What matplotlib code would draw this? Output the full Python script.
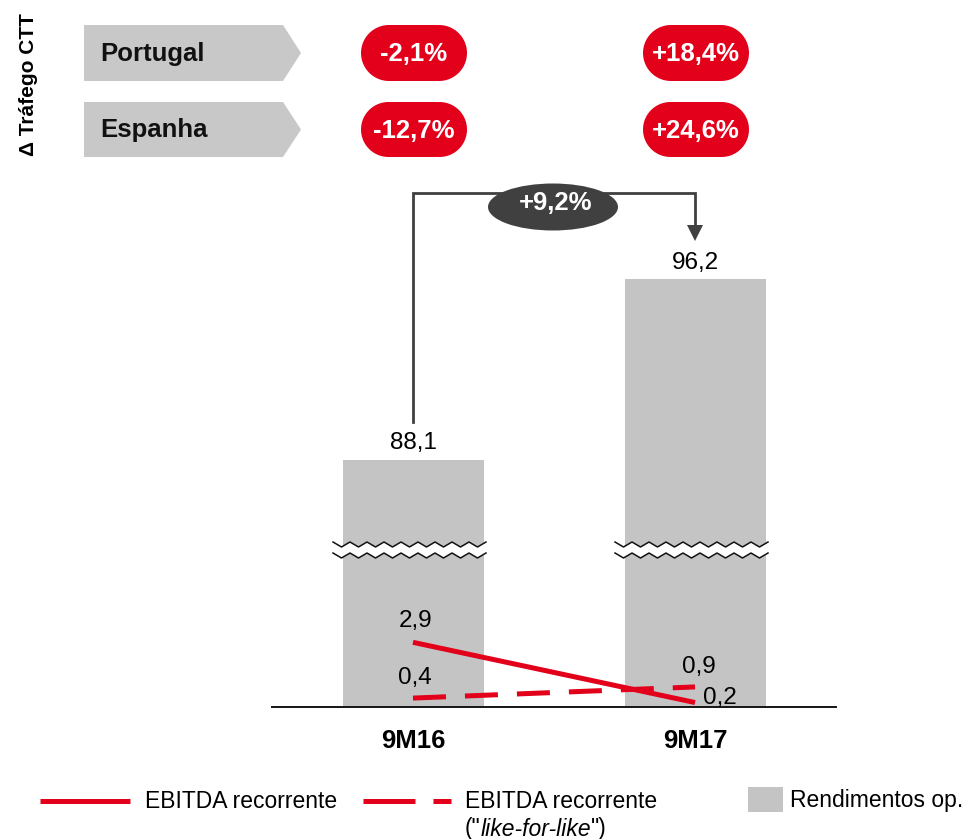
import numpy as np
import matplotlib
matplotlib.use("Agg")
import matplotlib.pyplot as plt
from matplotlib.patches import Polygon, Ellipse, Rectangle
from matplotlib.lines import Line2D

plt.rcParams['font.family'] = ['Liberation Sans', 'DejaVu Sans']

# ---------------- data ----------------
categories = ['9M16', '9M17']
rendimentos = [88.1, 96.2]          # Rendimentos op.
ebitda = [2.9, 0.2]                 # EBITDA recorrente
ebitda_lfl = [0.4, 0.9]             # EBITDA recorrente ("like-for-like")
growth_pct = 9.2
traffic_regions = ['Portugal', 'Espanha']
traffic_9m16 = [-2.1, -12.7]
traffic_9m17 = [18.4, 24.6]

RED = '#e2001a'
BAR_GREY = '#c4c4c4'
CHEV_GREY = '#c8c8c8'
DARK = '#404040'

W, H = 974, 839
fig = plt.figure(figsize=(W / 100, H / 100), dpi=100)


def fmt(v, sign=False):
    s = f"{v:+.1f}" if sign else f"{v:.1f}"
    return s.replace('.', ',')


# ---------------- main axes with broken scale ----------------
B1 = 7.26      # break start (lower region)
GAP = 77.02    # removed range
B2 = B1 + GAP


def fwd(y):
    y = np.asarray(y, dtype=float)
    return np.where(y <= B1, y, np.where(y >= B2, y - GAP, B1))


def inv(t):
    t = np.asarray(t, dtype=float)
    return np.where(t <= B1, t, t + GAP)


ax_left, ax_right, ax_base, ax_top = 272, 836, 707, 170
ax = fig.add_axes([ax_left / W, (H - ax_base) / H, (ax_right - ax_left) / W, (ax_base - ax_top) / H])
ax.set_yscale('function', functions=(fwd, inv))
ax.set_xlim(-0.5, 1.5)
ax.set_ylim(0, 101.1)
x = np.arange(len(categories))
ax.bar(x, rendimentos, width=0.5, color=BAR_GREY, zorder=1)
ax.plot(x, ebitda, color=RED, lw=3.6, solid_capstyle='butt', zorder=3)
ax.plot(x, ebitda_lfl, color=RED, lw=3.6, dashes=(6.6, 3.8), dash_capstyle='butt', zorder=2)

for spine in ['top', 'right', 'left']:
    ax.spines[spine].set_visible(False)
ax.spines['bottom'].set_color('#151515')
ax.spines['bottom'].set_linewidth(1.4)
ax.set_yticks([])
ax.set_xticks(x, categories, fontsize=18.5, fontweight='bold')
ax.tick_params(axis='x', length=0, pad=16)
ax.patch.set_visible(False)

for xi, v in zip(x, rendimentos):
    ax.annotate(fmt(v), (xi, v), xytext=(0, 7.5), textcoords='offset points',
                ha='center', va='baseline', fontsize=17.5)
# EBITDA labels
ax.annotate(fmt(ebitda[0]), (x[0], ebitda[0]), xytext=(1.5, 11), textcoords='offset points',
            ha='center', va='baseline', fontsize=17.5)
ax.annotate(fmt(ebitda[1]), (x[1], ebitda[1]), xytext=(6, -1), textcoords='offset points',
            ha='left', va='baseline', fontsize=17.5)
ax.annotate(fmt(ebitda_lfl[0]), (x[0], ebitda_lfl[0]), xytext=(1.5, 10), textcoords='offset points',
            ha='center', va='baseline', fontsize=17.5)
ax.annotate(fmt(ebitda_lfl[1]), (x[1], ebitda_lfl[1]), xytext=(3, 10), textcoords='offset points',
            ha='center', va='baseline', fontsize=17.5)

# ---------------- overlay in pixel coordinates ----------------
ov = fig.add_axes([0, 0, 1, 1], zorder=5)
ov.set_xlim(0, W)
ov.set_ylim(H, 0)
ov.axis('off')

bar_px = [413, 695]


def stadium(cx, cy, w, h, n=40):
    r = h / 2
    a1 = np.linspace(-np.pi / 2, np.pi / 2, n)
    right = np.column_stack([cx + w / 2 - r + r * np.cos(a1), cy + r * np.sin(a1)])
    a2 = np.linspace(np.pi / 2, 3 * np.pi / 2, n)
    left = np.column_stack([cx - w / 2 + r + r * np.cos(a2), cy + r * np.sin(a2)])
    return np.vstack([right, left])


# break marks
for cx in bar_px:
    xs = np.arange(cx - 80, cx + 78, 8.5)
    amp = np.where(np.arange(len(xs)) % 2 == 0, -2.5, 2.5)
    top = 544.5 + amp
    bot = 555.5 + amp
    poly = np.column_stack([np.concatenate([xs, xs[::-1]]), np.concatenate([top, bot[::-1]])])
    ov.add_patch(Polygon(poly, closed=True, facecolor='white', edgecolor='none'))
    ov.plot(xs, top, color='#111111', lw=1.1)
    ov.plot(xs, bot, color='#111111', lw=1.1)

# vertical title
ov.text(28, 85, 'Δ Tráfego CTT', rotation=90, ha='center', va='center',
        fontsize=15, fontweight='bold')

# chevrons and pills
rows_y = [(25, 81), (102, 157)]
for (y0, y1), name, a, b in zip(rows_y, traffic_regions, traffic_9m16, traffic_9m17):
    ym = (y0 + y1) / 2
    ov.add_patch(Polygon([(84, y0), (283, y0), (301, ym), (283, y1), (84, y1)],
                         closed=True, facecolor=CHEV_GREY, edgecolor='none'))
    ov.text(100, ym + 1, name, ha='left', va='center', fontsize=18.5, fontweight='bold', color='#111111')
    for cx, v in zip(bar_px, [a, b]):
        hgt = y1 - y0
        ov.add_patch(Polygon(stadium(cx + 1, ym, 106, hgt), closed=True,
                             facecolor=RED, edgecolor='none'))
        ov.text(cx + 1, ym + 1, fmt(v, sign=True) + '%', ha='center', va='center',
                fontsize=18.5, fontweight='bold', color='white')

# growth connector
ov.plot([bar_px[0], bar_px[0], bar_px[1], bar_px[1]], [422, 193, 193, 226],
        color=DARK, lw=2.0, solid_joinstyle='miter')
ov.add_patch(Polygon([(bar_px[1] - 8, 225), (bar_px[1] + 8, 225), (bar_px[1], 241)],
                     closed=True, facecolor=DARK, edgecolor='none'))
ov.add_patch(Ellipse((553, 207), 130, 47, facecolor=DARK, edgecolor='none'))
ov.text(556, 203, fmt(growth_pct, sign=True) + '%', ha='center', va='center',
        fontsize=18.5, fontweight='bold', color='white')

# legend
ly = 801
ov.add_line(Line2D([40, 130], [ly, ly], color=RED, lw=3.6, solid_capstyle='butt'))
ov.text(145, ly, 'EBITDA recorrente', ha='left', va='center', fontsize=16.5)
ov.add_line(Line2D([363, 451], [ly, ly], color=RED, lw=3.6, dashes=(10.4, 3.6), dash_capstyle='butt'))
ov.text(465, ly, 'EBITDA recorrente', ha='left', va='center', fontsize=16.5)
t1 = ov.text(465, ly + 28, '("', ha='left', va='center', fontsize=16.5)
t2 = ov.annotate('like-for-like', xy=(1, 0), xycoords=t1, ha='left', va='bottom',
                 fontsize=16.5, style='italic')
ov.annotate('")', xy=(1, 0), xycoords=t2, ha='left', va='bottom', fontsize=16.5)
ov.add_patch(Rectangle((748, 787), 35, 25, facecolor=BAR_GREY, edgecolor='none'))
ov.text(790, ly, 'Rendimentos op.', ha='left', va='center', fontsize=16.5)

fig.savefig('out.png', dpi=100)
